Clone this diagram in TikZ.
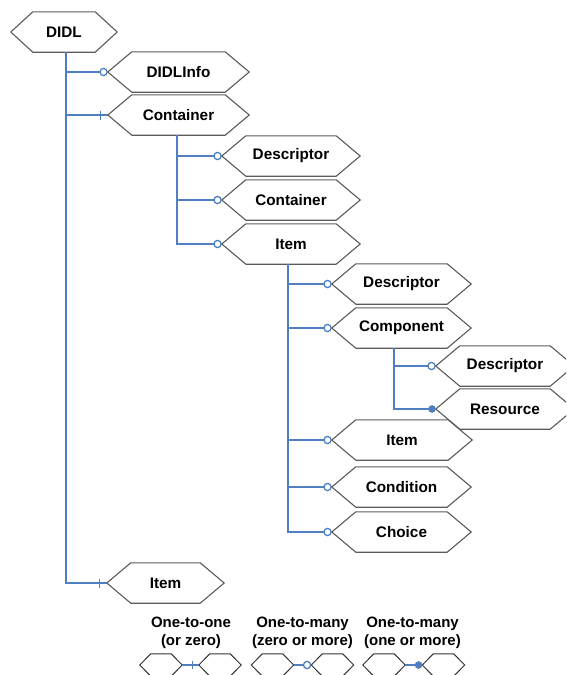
\documentclass[tikz,border=0pt]{standalone}
\usepackage{fontspec}
\setmainfont{Liberation Sans}
\usetikzlibrary{arrows.meta}

\definecolor{linkblue}{HTML}{4F7FC0}
\definecolor{hexgray}{HTML}{5A5A5A}

\tikzset{
  hexbox/.style={rectangle, minimum height=40, inner sep=0,
    font=\bfseries\fontsize{15.3}{18}\selectfont},
  minibox/.style={rectangle, minimum height=22, minimum width=42, inner sep=0},
  hexline/.style={draw=hexgray, line width=1.1pt, line join=miter},
  miniline/.style={draw=black!80, line width=1.0pt, line join=miter},
  link/.style={draw=linkblue, line width=1.4pt},
  tickmark/.style={draw=linkblue, line width=1.3pt},
  zeromany/.style={link, -{Circle[open, fill=white, length=8.5pt, width=8.5pt, line width=1.3pt]}},
  onemany/.style={link, -{Circle[length=7.5pt, width=7.5pt]}},
  legendtext/.style={align=center, inner sep=0,
    font=\bfseries\fontsize{15}{18}\selectfont},
}

% hexagon node: name, centre x, centre y, overall width, slant, label
\newcommand{\hexnode}[6]{%
  \node[hexbox, minimum width=#4] (#1) at (#2,#3) {#6};
  \draw[hexline] (#1.west) -- ([xshift=#5]#1.south west)
    -- ([xshift=-#5]#1.south east) -- (#1.east)
    -- ([xshift=-#5]#1.north east) -- ([xshift=#5]#1.north west) -- cycle;}

% small empty hexagon for the key
\newcommand{\mininode}[3]{%
  \node[minibox] (#1) at (#2,#3) {};
  \draw[miniline] (#1.west) -- ([xshift=11]#1.south west)
    -- ([xshift=-11]#1.south east) -- (#1.east)
    -- ([xshift=-11]#1.north east) -- ([xshift=11]#1.north west) -- cycle;}

\begin{document}
\begin{tikzpicture}[x=1pt, y=-1pt]
  \useasboundingbox (0,0) rectangle (566,675);
  \clip (0,0) rectangle (566,675);

  % element hierarchy
  \hexnode{didl}{64}{32}{106}{22}{DIDL}
  \hexnode{didlinfo}{178.5}{72}{141}{24}{DIDLInfo}
  \hexnode{cont}{178.5}{115}{141}{24}{Container}
  \hexnode{cdesc}{291}{156}{138}{24}{Descriptor}
  \hexnode{ccont}{291}{200}{138}{24}{Container}
  \hexnode{citem}{291}{244}{138}{24}{Item}
  \hexnode{idesc}{401.5}{284}{139}{24}{Descriptor}
  \hexnode{icomp}{401.5}{328}{139}{24}{Component}
  \hexnode{pdesc}{505}{366}{138}{24}{Descriptor}
  \hexnode{pres}{505}{409}{138}{24}{Resource}
  \hexnode{iitem}{402}{440}{140}{24}{Item}
  \hexnode{icond}{401.5}{487}{139}{24}{Condition}
  \hexnode{ichoice}{401.5}{532}{139}{24}{Choice}
  \hexnode{ditem}{165.5}{583}{117}{24}{Item}

  % DIDL children
  \coordinate (dtrunk) at ([xshift=2]didl.south);
  \draw[zeromany] (dtrunk) |- (didlinfo.west);
  \draw[link] (dtrunk) |- (cont.west);
  \draw[tickmark] ([xshift=-7]cont.west) +(0,-4.5) -- +(0,4.5);
  \draw[link] (dtrunk) |- (ditem.west);
  \draw[tickmark] ([xshift=-7]ditem.west) +(0,-4.5) -- +(0,4.5);

  % Container children
  \coordinate (ctrunk) at ([xshift=-1.5]cont.south);
  \draw[zeromany] (ctrunk) |- (cdesc.west);
  \draw[zeromany] (ctrunk) |- (ccont.west);
  \draw[zeromany] (ctrunk) |- (citem.west);

  % Item children
  \coordinate (itrunk) at ([xshift=-3]citem.south);
  \draw[zeromany] (itrunk) |- (idesc.west);
  \draw[zeromany] (itrunk) |- (icomp.west);
  \draw[zeromany] (itrunk) |- (iitem.west);
  \draw[zeromany] (itrunk) |- (icond.west);
  \draw[zeromany] (itrunk) |- (ichoice.west);

  % Component children
  \coordinate (ptrunk) at ([xshift=-7.5]icomp.south);
  \draw[zeromany] (ptrunk) |- (pdesc.west);
  \draw[onemany] (ptrunk) |- (pres.west);

  % key
  \node[legendtext] (k1) at (191,633) {One-to-one\\(or zero)};
  \node[legendtext] (k2) at (302.5,633) {One-to-many\\(zero or more)};
  \node[legendtext] (k3) at (412.5,633) {One-to-many\\(one or more)};

  \mininode{k1a}{161}{665}
  \mininode{k1b}{220}{665}
  \mininode{k2a}{272.5}{665}
  \mininode{k2b}{332.5}{665}
  \mininode{k3a}{384}{665}
  \mininode{k3b}{443.5}{665}

  \draw[link] (k1a.east) -- (k1b.west);
  \draw[tickmark] ([xshift=-6]k1b.west) +(0,-4) -- +(0,4);
  \draw[zeromany] (k2a.east) -- (k2b.west);
  \draw[onemany] (k3a.east) -- (k3b.west);
\end{tikzpicture}
\end{document}
